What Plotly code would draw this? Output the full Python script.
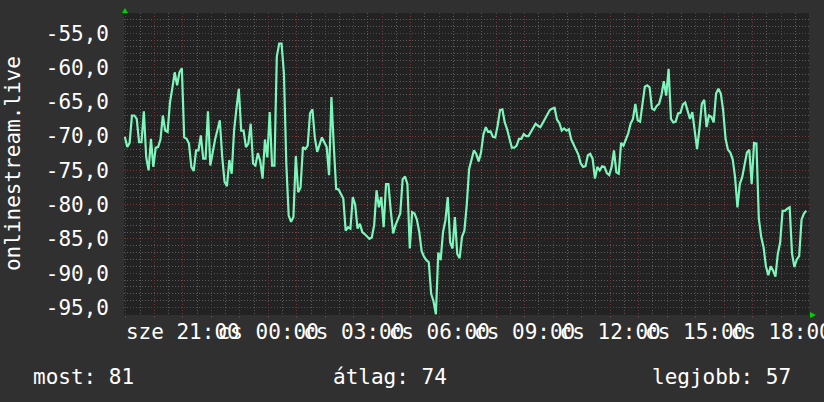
import pandas as pd
import plotly.graph_objects as go

# ---- data (signal level, dBm, 5-minute samples) ----
start_time = "2023-09-20 18:58"
signal_values = [
    -70.1, -71.6, -71.0, -67.0, -67.0, -67.5, -70.9, -70.9, -66.4, -73.1,
    -75.0, -70.4, -74.5, -71.7, -71.6, -70.5, -67.0, -69.2, -69.4, -65.1,
    -63.0, -60.7, -62.6, -60.7, -60.1, -70.2, -70.4, -71.1, -74.5, -75.1,
    -72.1, -72.1, -69.9, -73.3, -73.3, -66.4, -74.3, -72.1, -70.5, -69.1,
    -67.7, -73.0, -76.7, -77.3, -73.5, -75.5, -69.2, -66.0, -63.1, -69.2,
    -69.2, -71.6, -71.1, -68.2, -74.0, -74.3, -72.5, -73.6, -76.2, -70.5,
    -73.1, -66.5, -74.3, -74.3, -58.4, -56.5, -56.5, -60.9, -74.0, -81.6,
    -82.5, -81.8, -72.9, -78.2, -77.5, -71.6, -71.9, -71.4, -66.7, -66.1,
    -70.2, -72.3, -71.1, -70.2, -70.9, -71.6, -75.7, -64.3, -71.5, -77.7,
    -77.8, -78.4, -79.1, -83.8, -83.3, -83.5,
    -78.9, -80.0, -83.5, -82.8, -84.0, -84.3, -84.7, -85.0, -84.8, -83.0,
    -77.9, -80.4, -78.9, -83.3, -77.0, -77.0, -80.9, -84.2, -83.0, -82.0,
    -81.3, -76.3, -75.9, -77.0, -86.4, -81.1, -81.3, -82.2, -84.0, -86.8,
    -87.6, -88.1, -88.4, -93.0, -94.1, -96.0, -87.0, -88.1, -84.0, -82.3,
    -78.9, -85.5, -86.4, -81.8, -87.2, -87.8, -84.7, -83.8, -80.0, -74.8,
    -73.3, -72.1, -72.6, -73.7, -72.4, -69.8, -68.7, -69.4, -69.3, -70.1,
    -70.2, -68.5, -66.2, -66.1, -68.0, -69.0, -70.4, -71.7, -71.7, -71.4,
    -70.4, -70.4, -69.7, -70.0, -70.0, -69.4, -68.7, -68.2, -68.5, -68.7,
    -68.1, -67.4, -66.7, -66.2, -66.0, -65.9, -67.6, -68.1, -69.2, -68.9,
    -69.2, -69.0, -70.5, -71.2, -71.9, -72.7, -74.0, -74.5, -74.4, -72.8,
    -72.6, -73.3, -76.2, -74.5, -75.0, -74.4, -74.5, -75.4, -75.7, -74.5,
    -72.1, -75.3, -75.5, -71.0, -71.4, -70.6, -69.6, -68.2, -67.5, -65.3,
    -67.7, -67.9, -65.0, -62.8, -62.6, -62.9, -66.0, -66.2, -65.6, -65.3,
    -64.0, -62.0, -64.1, -60.2, -67.5, -68.0, -67.9, -66.7, -66.6, -65.4,
    -65.1, -66.4, -67.5, -66.5, -69.4, -71.9, -68.9, -65.3, -64.7, -68.7,
    -67.0, -67.2, -68.0, -63.8, -63.1, -63.8, -66.3, -70.4, -72.0, -72.4,
    -73.4, -76.0, -80.4, -77.0, -76.0, -74.1, -72.4, -72.0, -77.0, -71.0,
    -71.1, -82.0, -84.7, -86.2, -89.0, -90.3, -89.0, -89.6, -90.5, -87.2,
    -85.5, -80.9, -80.9, -80.6, -80.4, -87.2, -89.1, -88.0, -87.5, -82.2,
    -81.3, -80.9,
]

x_range = ["2023-09-20 18:56:12", "2023-09-21 18:58:42"]
hour_ticks = ["2023-09-20 %02d:00" % h for h in range(19, 24)] + \
             ["2023-09-21 %02d:00" % h for h in range(0, 19)]
x_labels = {
    "2023-09-20 21:00": "sze 21:00",
    "2023-09-21 00:00": "cs 00:00",
    "2023-09-21 03:00": "cs 03:00",
    "2023-09-21 06:00": "cs 06:00",
    "2023-09-21 09:00": "cs 09:00",
    "2023-09-21 12:00": "cs 12:00",
    "2023-09-21 15:00": "cs 15:00",
    "2023-09-21 18:00": "cs 18:00",
}
y_ticks = [-95, -90, -85, -80, -75, -70, -65, -60, -55]
y_labels = ["-95,0", "-90,0", "-85,0", "-80,0", "-75,0", "-70,0", "-65,0", "-60,0", "-55,0"]
y_range = [-96.1, -52.05]
axis_title = "onlinestream.live"
stat_names = ["most", "átlag", "legjobb"]
stat_values = [81, 74, 57]

# ---- styling ----
FONT = "DejaVu Sans Mono"
PAPER = "#303030"
PLOT = "#222222"
GRID_MINOR = "#5a5a5a"
GRID_MAJOR = "#743636"
LINE = "#7df5bb"
ARROW = "#00d000"
DASH = "1px,2px"

times = pd.date_range(start_time, periods=len(signal_values), freq="5min")

fig = go.Figure()
fig.add_trace(go.Scatter(
    x=times, y=signal_values, mode="lines",
    line=dict(color=LINE, width=2.2), hoverinfo="skip", showlegend=False,
))

fig.update_layout(
    width=824, height=402,
    margin=dict(l=124, r=15, t=13, b=87, pad=0),
    paper_bgcolor=PAPER, plot_bgcolor=PLOT,
    font=dict(family=FONT, size=21, color="#ffffff"),
    showlegend=False,
)

fig.update_xaxes(
    range=x_range, type="date",
    tickmode="array", tickvals=hour_ticks,
    ticktext=[x_labels.get(t, "") for t in hour_ticks],
    tickangle=0, ticklabeloverflow="allow",
    ticks="outside", ticklen=2, tickcolor=GRID_MAJOR, tickwidth=1,
    ticklabelstandoff=-4,
    showgrid=True, gridcolor=GRID_MAJOR, griddash=DASH, gridwidth=1,
    minor=dict(tickmode="linear", tick0="2023-09-20 19:30", dtick=3600000,
               showgrid=True, gridcolor=GRID_MINOR, griddash=DASH, gridwidth=1),
    zeroline=False, showline=False, automargin=False,
    tickfont=dict(family=FONT, size=21, color="#ffffff"),
)
fig.update_yaxes(
    range=y_range,
    tickmode="array", tickvals=y_ticks, ticktext=y_labels,
    ticks="", ticklabelstandoff=14,
    showgrid=True, gridcolor=GRID_MAJOR, griddash=DASH, gridwidth=1,
    minor=dict(tickmode="linear", tick0=0, dtick=1,
               showgrid=True, gridcolor=GRID_MINOR, griddash=DASH, gridwidth=1),
    zeroline=False, showline=False, automargin=False,
    tickfont=dict(family=FONT, size=21, color="#ffffff"),
)

# rotated axis title
fig.add_annotation(
    text=axis_title, xref="paper", yref="paper", x=-0.162, y=0.5,
    xanchor="center", yanchor="middle", textangle=-90, showarrow=False,
    font=dict(family=FONT, size=21, color="#ffffff"),
)

# legend / statistics line
stat_pos = [(-0.136, "left"), (0.302, "left"), (0.976, "right")]
for name, val, (px, anc) in zip(stat_names, stat_values, stat_pos):
    fig.add_annotation(
        text=f"{name}: {val}", xref="paper", yref="paper", x=px, y=-0.204,
        xanchor=anc, yanchor="middle", showarrow=False,
        font=dict(family=FONT, size=21, color="#ffffff"),
    )

# axis arrows (rrdtool style)
fig.add_shape(type="path", xref="paper", yref="paper",
              xsizemode="pixel", ysizemode="pixel", xanchor=0, yanchor=1,
              path="M -2 0 L 4 0 L 1 5 Z", fillcolor=ARROW, line=dict(width=0))
fig.add_shape(type="path", xref="paper", yref="paper",
              xsizemode="pixel", ysizemode="pixel", xanchor=1, yanchor=0,
              path="M 1 3 L 1 -3 L 7 0 Z", fillcolor=ARROW, line=dict(width=0))

fig.write_html("out.html",
               config={"displayModeBar": False},
               post_script="document.body.style.margin='0px';")
